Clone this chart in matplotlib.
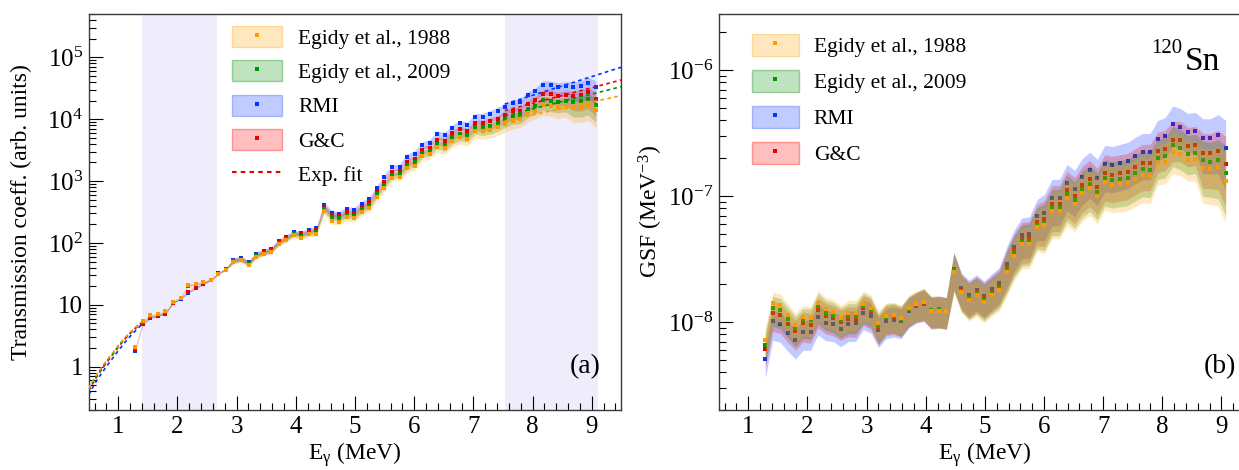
import numpy as np
import matplotlib
matplotlib.use("Agg")
import matplotlib.pyplot as plt
from matplotlib.patches import Patch
from matplotlib.lines import Line2D
from matplotlib.ticker import FixedLocator, FuncFormatter, MultipleLocator, LogLocator, NullFormatter
from matplotlib.colors import to_rgba

plt.rcParams['font.family'] = ['Liberation Serif', 'DejaVu Serif']
plt.rcParams['mathtext.fontset'] = 'custom'
plt.rcParams['mathtext.rm'] = 'Liberation Serif'
plt.rcParams['mathtext.it'] = 'Liberation Serif:italic'
plt.rcParams['mathtext.bf'] = 'Liberation Serif:bold'

# ---------------- data ----------------
energy = [1.287, 1.415, 1.542, 1.670, 1.797, 1.925, 2.053, 2.180, 2.308, 2.435,
          2.563, 2.691, 2.818, 2.946, 3.073, 3.201, 3.329, 3.456, 3.584, 3.711,
          3.839, 3.967, 4.094, 4.222, 4.349, 4.477, 4.605, 4.732, 4.860, 4.987,
          5.115, 5.243, 5.370, 5.498, 5.625, 5.753, 5.881, 6.008, 6.136, 6.263,
          6.391, 6.519, 6.646, 6.774, 6.901, 7.029, 7.157, 7.284, 7.412, 7.539,
          7.667, 7.795, 7.922, 8.050, 8.177, 8.305, 8.433, 8.560, 8.688, 8.815,
          8.943, 9.071]

# transmission coefficients (arb. units)
t_1988 = [2.1, 5.4, 6.8, 7.1, 8.0, 11.1, 13.1, 20.9, 21.9, 23.5,
          25.4, 31.5, 37, 49.7, 52.6, 44.5, 59.8, 66.1, 71.3, 96,
          111, 132, 121, 137, 139, 323, 228, 222, 258, 249,
          316, 366, 543, 779, 1117, 1143, 1600, 1767, 2500, 2692,
          3492, 3412, 4477, 5058, 4699, 6327, 6330, 6670, 7350, 8340,
          9420, 9890, 12080, 13680, 16900, 16290, 15130, 15850, 15130, 15850,
          17100, 14030]
t_2009 = [2.0, 5.3, 6.6, 7.0, 7.6, 11.0, 13.0, 20.5, 21.5, 23.0,
          25.4, 31.8, 37.5, 51, 54, 46, 62, 69, 74, 100,
          116, 138, 130, 146, 152, 353, 265, 250, 286, 275,
          348, 404, 608, 871, 1250, 1278, 1786, 2000, 2793, 3006,
          3961, 3855, 5058, 5746, 5458, 7350, 7350, 7730, 8530, 9890,
          11220, 11480, 14360, 16290, 20320, 19320, 18620, 19320, 18620, 19320,
          21130, 17100]
t_rmi = [1.79, 4.9, 6.1, 6.7, 7.1, 10.7, 12.6, 15.8, 18.7, 21.7,
         25.4, 32.5, 38.5, 53.5, 57.6, 48.4, 66.1, 74.8, 80.5, 107,
         127, 150, 145, 162, 174, 414, 307, 290, 353, 340,
         425, 505, 760, 1143, 1660, 1702, 2443, 2730, 3855, 4155,
         5746, 5458, 7180, 8531, 7911, 10940, 11000, 12080, 13680, 15850,
         17950, 18620, 24500, 28050, 35970, 35560, 33340, 34670, 33340, 34670,
         38730, 33340]
t_gc = [1.93, 5.1, 6.3, 6.8, 7.3, 10.9, 12.9, 16.2, 19.0, 22.0,
        25.4, 32, 38, 52, 56, 47, 64, 72, 77, 103,
        121, 144, 137, 154, 163, 375, 286, 270, 311, 304,
        380, 451, 672, 964, 1397, 1429, 2028, 2234, 3170, 3451,
        4592, 4477, 5875, 6826, 6327, 8531, 8530, 9190, 10140, 11780,
        13300, 13670, 17540, 20320, 25400, 25400, 23600, 24780, 23600, 24200,
        27040, 21130]
# relative uncertainties of the transmission coefficients (upper / lower)
t_err_up = [0.03] * 13 + [0.07] * 12 + [0.10] * 11 + [0.12] * 10 + [0.14] * 8 + \
           [0.16] * 4 + [0.20, 0.20, 0.22, 0.25]
t_err_dn = [0.03] * 13 + [0.08] * 12 + [0.12] * 11 + [0.15] * 5 + [0.22] * 5 + [0.26] * 8 + \
           [0.32] * 4 + [0.42, 0.44, 0.45, 0.48]

# gamma strength function (units of 1e-8 MeV^-3)
gsf_1988 = [0.716, 1.41, 1.36, 1.13, 0.953, 1.10, 1.07, 1.42, 1.26, 1.21,
            1.08, 1.19, 1.19, 1.40, 1.30, 0.977, 1.12, 1.14, 1.08, 1.29,
            1.38, 1.45, 1.23, 1.23, 1.22, 2.50, 1.74, 1.50, 1.63, 1.45,
            1.63, 1.81, 2.51, 3.36, 4.14, 4.16, 5.64, 5.85, 7.65, 7.65,
            9.70, 8.70, 10.5, 11.65, 10.06, 13.0, 12.3, 12.53, 12.76, 13.73,
            14.8, 14.5, 18.4, 18.7, 22.5, 21.7, 19.4, 19.4, 16.8, 16.5,
            17.1, 13.3]
gsf_2009 = [0.662, 1.30, 1.25, 1.06, 0.903, 1.04, 1.03, 1.35, 1.19, 1.14,
            1.04, 1.12, 1.12, 1.34, 1.25, 0.925, 1.10, 1.12, 1.06, 1.26,
            1.38, 1.44, 1.25, 1.26, 1.22, 2.59, 1.77, 1.54, 1.69, 1.50,
            1.70, 1.88, 2.64, 3.55, 4.34, 4.42, 5.93, 6.15, 8.08, 8.08,
            10.44, 9.30, 11.3, 12.53, 10.83, 13.9, 13.4, 13.73, 14.0, 15.2,
            16.5, 16.2, 20.2, 20.9, 25.6, 24.2, 21.7, 22.2, 19.2, 18.8,
            19.4, 15.3]
gsf_rmi = [0.506, 1.01, 0.97, 0.823, 0.716, 0.839, 0.839, 1.10, 0.989, 0.97,
           0.886, 0.97, 0.977, 1.19, 1.12, 0.86, 1.01, 1.04, 1.01, 1.22,
           1.34, 1.40, 1.22, 1.24, 1.22, 2.65, 1.85, 1.63, 1.80, 1.60,
           1.82, 2.05, 2.91, 3.96, 4.94, 5.03, 6.90, 7.38, 9.70, 9.70,
           12.76, 11.43, 14.2, 16.0, 14.0, 18.1, 17.7, 18.4, 19.1, 20.9,
           22.5, 22.5, 28.5, 30.1, 37.1, 35.5, 32.4, 33.0, 29.0, 29.0,
           30.7, 24.2]
gsf_gc = [0.608, 1.19, 1.14, 0.97, 0.844, 0.977, 0.953, 1.25, 1.12, 1.08,
          0.995, 1.06, 1.05, 1.29, 1.20, 0.897, 1.07, 1.09, 1.04, 1.25,
          1.36, 1.42, 1.23, 1.25, 1.22, 2.62, 1.81, 1.57, 1.74, 1.56,
          1.75, 1.98, 2.75, 3.73, 4.53, 4.64, 6.26, 6.61, 8.70, 8.70,
          11.23, 10.06, 12.3, 13.73, 11.86, 15.3, 14.8, 15.2, 15.6, 17.0,
          18.4, 18.4, 22.9, 23.8, 28.0, 28.0, 25.1, 25.6, 22.1, 22.1,
          22.9, 18.1]
gsf_err_up = [0.25] + [0.23] * 6 + [0.25] * 6 + [0.26] * 8 + [0.28] * 4 + [0.35] + \
             [0.32] * 6 + [0.36] * 5 + [0.40] * 15 + [0.40] * 6 + [0.42, 0.42, 0.45, 0.65]
gsf_err_dn = [0.29] + [0.29] * 6 + [0.28] * 6 + [0.27] * 8 + [0.28] * 4 + [0.32] + \
             [0.32] * 6 + [0.36] * 5 + [0.40] * 15 + [0.33] * 4 + [0.32] * 2 + [0.48, 0.48, 0.51, 0.54]

# exponential fits (extrapolations) of the transmission coefficient
fit_lo_E = [0.5, 0.6, 0.7, 0.8, 0.9, 1.0, 1.1, 1.2, 1.3, 1.4]
fit_lo_1988 = [0.45, 0.66, 0.92, 1.25, 1.65, 2.2, 2.85, 3.6, 4.4, 5.3]
fit_lo_2009 = [0.43, 0.64, 0.89, 1.21, 1.60, 2.15, 2.8, 3.55, 4.35, 5.25]
fit_lo_gc = [0.41, 0.61, 0.85, 1.16, 1.55, 2.08, 2.72, 3.45, 4.25, 5.15]
fit_lo_rmi = [0.35, 0.53, 0.74, 1.01, 1.35, 1.82, 2.4, 3.1, 3.9, 4.85]
fit_hi_E = [7.53, 9.5]
fit_hi_1988 = [9.4e3, 2.4e4]
fit_hi_2009 = [1.13e4, 3.35e4]
fit_hi_gc = [1.37e4, 4.3e4]
fit_hi_rmi = [1.75e4, 6.9e4]

# normalisation / fit regions (MeV)
region_low = [1.40, 2.67]
region_high = [7.53, 9.10]

labels = ["Egidy et al., 1988", "Egidy et al., 2009", "RMI", "G&C"]

# ---------------- style ----------------
mk_col = {"1988": "#ff9900", "2009": "#009600", "rmi": "#0036ff", "gc": "#e80000"}
band_col = {"1988": "#ffa500", "2009": "#008c00", "rmi": "#3355ff", "gc": "#ff0000"}
band_alpha = {"1988": 0.25, "2009": 0.25, "rmi": 0.30, "gc": 0.25}

E = np.array(energy)
T = {"1988": np.array(t_1988), "2009": np.array(t_2009), "rmi": np.array(t_rmi), "gc": np.array(t_gc)}
G = {"1988": np.array(gsf_1988) * 1e-8, "2009": np.array(gsf_2009) * 1e-8,
     "rmi": np.array(gsf_rmi) * 1e-8, "gc": np.array(gsf_gc) * 1e-8}
FLO = {"1988": fit_lo_1988, "2009": fit_lo_2009, "rmi": fit_lo_rmi, "gc": fit_lo_gc}
FHI = {"1988": fit_hi_1988, "2009": fit_hi_2009, "rmi": fit_hi_rmi, "gc": fit_hi_gc}
order = ["rmi", "gc", "2009", "1988"]   # drawing order (orange on top)
keys_legend = ["1988", "2009", "rmi", "gc"]

W, H = 1239, 470
fig = plt.figure(figsize=(W / 100, H / 100), dpi=100)

def px_axes(x0, y0, x1, y1):
    return fig.add_axes([x0 / W, 1 - y1 / H, (x1 - x0) / W, (y1 - y0) / H])

ax1 = px_axes(88.7, 14, 621.3, 410)
ax2 = px_axes(718.7, 14, 1251.0, 410)

spine_col = "#3a3a3a"
for ax in (ax1, ax2):
    for s in ax.spines.values():
        s.set_color(spine_col)
        s.set_linewidth(1.0)
    ax.set_yscale("log")
    ax.set_xlim(0.5, 9.5)
    ax.xaxis.set_major_locator(MultipleLocator(1))
    ax.xaxis.set_minor_locator(MultipleLocator(0.2))
    ax.tick_params(which="both", direction="in", top=False, right=False, labelsize=18,
                   width=0.8, color="black")
    ax.tick_params(which="major", length=10)
    ax.tick_params(which="minor", length=5)
    ax.tick_params(axis="x", pad=4)
    ax.tick_params(axis="y", pad=4)
    ax.yaxis.set_minor_locator(LogLocator(base=10, subs=np.arange(2, 10), numticks=20))
    ax.yaxis.set_minor_formatter(NullFormatter())
    ax.set_xlabel(r"E$_{\mathrm{\gamma}}$ (MeV)", fontsize=17)
    ax.xaxis.set_label_coords(0.5, -0.077)

# ---------- panel (a) ----------
ax1.set_ylim(0.2, 5e5)
ax1.axvspan(region_low[0], region_low[1], color="#efecfb", lw=0, zorder=0)
ax1.axvspan(region_high[0], region_high[1], color="#efecfb", lw=0, zorder=0)
ax1.yaxis.set_major_locator(FixedLocator([1, 10, 1e2, 1e3, 1e4, 1e5]))

def fmt_a(v, pos):
    if v < 5:
        return "1"
    if v < 50:
        return "10"
    return r"$10^{%d}$" % round(np.log10(v))

ax1.yaxis.set_major_formatter(FuncFormatter(fmt_a))
ax1.set_ylabel("Transmission coeff. (arb. units)", fontsize=17)
ax1.yaxis.set_label_coords(-0.1065, 0.5)

z = 2
for k in order:
    y = T[k]
    lo = y * (1 - np.array(t_err_dn))
    hi = y * (1 + np.array(t_err_up))
    ax1.fill_between(E, lo, hi, color=band_col[k], alpha=band_alpha[k], lw=0, zorder=z)
    ax1.plot(E, y, ls="none", marker="s", ms=2.3, mew=0, color=mk_col[k], zorder=z + 0.5)
    z += 1
for k in order:
    ax1.plot(fit_lo_E, FLO[k], ls=(0, (2.2, 2.0)), lw=1.2, color=mk_col[k], zorder=10)
    ax1.plot(fit_hi_E, FHI[k], ls=(0, (2.2, 2.0)), lw=1.2, color=mk_col[k], zorder=10)

handles = []
for k in keys_legend:
    p = Patch(facecolor=to_rgba(band_col[k], band_alpha[k]), edgecolor=to_rgba(band_col[k], 0.35), lw=1.0)
    m = Line2D([], [], ls="none", marker="s", ms=3, mew=0, color=mk_col[k])
    handles.append((p, m))
handles.append(Line2D([], [], ls=(0, (2.2, 2.0)), lw=1.5, color=mk_col["gc"]))
leg1 = ax1.legend(handles, labels + ["Exp. fit"], loc="upper left", bbox_to_anchor=(0.269, 0.970),
                  frameon=False, fontsize=15.5, handlelength=2.33, handleheight=1.12,
                  handletextpad=0.74, labelspacing=0.54, borderpad=0, borderaxespad=0)
ax1.text(0.932, 0.11, "(a)", transform=ax1.transAxes, fontsize=20, ha="center", va="center")

# ---------- panel (b) ----------
ax2.set_ylim(2e-9, 2.8e-6)
ax2.yaxis.set_major_locator(FixedLocator([1e-8, 1e-7, 1e-6]))
ax2.yaxis.set_major_formatter(FuncFormatter(lambda v, p: r"$10^{%d}$" % round(np.log10(v))))
ax2.set_ylabel(r"GSF (MeV$^{-3}$)", fontsize=17)
ax2.yaxis.set_label_coords(-0.101, 0.5)

z = 2
for k in order:
    y = G[k]
    lo = y * (1 - np.array(gsf_err_dn))
    hi = y * (1 + np.array(gsf_err_up))
    ax2.fill_between(E, lo, hi, color=band_col[k], alpha=band_alpha[k], lw=0, zorder=z)
    ax2.plot(E, y, ls="none", marker="s", ms=2.3, mew=0, color=mk_col[k], zorder=z + 0.5)
    z += 1

leg2 = ax2.legend(handles[:4], labels, loc="upper left", bbox_to_anchor=(0.0617, 0.949),
                  frameon=False, fontsize=15.5, handlelength=2.19, handleheight=1.16,
                  handletextpad=0.7, labelspacing=0.60, borderpad=0, borderaxespad=0)
ax2.text(0.942, 0.11, "(b)", transform=ax2.transAxes, fontsize=20, ha="center", va="center")
ax2.text(0.813, 0.9015, "120", transform=ax2.transAxes, fontsize=15, ha="left", va="baseline")
ax2.text(0.876, 0.8586, "Sn", transform=ax2.transAxes, fontsize=24, ha="left", va="baseline")

fig.savefig("out.png", dpi=100)
